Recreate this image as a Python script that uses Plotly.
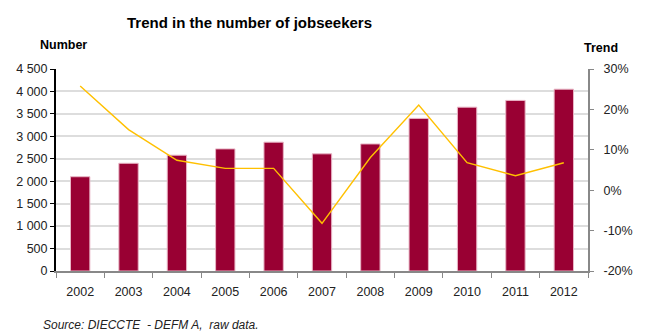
import plotly.graph_objects as go

years = ["2002", "2003", "2004", "2005", "2006", "2007", "2008", "2009", "2010", "2011", "2012"]
jobseekers = [2100, 2400, 2580, 2720, 2870, 2610, 2830, 3400, 3650, 3800, 4050]
trend_pct = [25.8, 15.0, 7.4, 5.4, 5.4, -8.2, 8.1, 21.1, 6.8, 3.6, 6.8]

left_ticks = [0, 500, 1000, 1500, 2000, 2500, 3000, 3500, 4000, 4500]
left_labels = ["0", "500", "1 000", "1 500", "2 000", "2 500", "3 000", "3 500", "4 000", "4 500"]
right_ticks = [-20, -10, 0, 10, 20, 30]
right_labels = ["-20%", "-10%", "0%", "10%", "20%", "30%"]

font_fam = "Liberation Sans, Arial, sans-serif"

fig = go.Figure()
fig.add_trace(go.Bar(
    x=years, y=jobseekers, width=0.4,
    marker=dict(color="#990033", line=dict(color="#E8B5C5", width=1)),
    yaxis="y", showlegend=False,
))
fig.add_trace(go.Scatter(
    x=years, y=trend_pct, mode="lines",
    line=dict(color="#FFC000", width=1.4),
    yaxis="y2", showlegend=False,
))

fig.update_layout(
    width=645, height=333,
    margin=dict(l=56, r=43, t=69, b=62),
    paper_bgcolor="white", plot_bgcolor="white",
    font=dict(family=font_fam, size=12, color="#222222"),
    xaxis=dict(
        type="category", showgrid=False,
        showline=True, linecolor="#888888", linewidth=2,
        ticks="outside", tickson="boundaries", ticklen=5, tickcolor="#888888", tickwidth=1,
        tickfont=dict(size=12.5), range=[-0.5, 10.5], ticklabelstandoff=8,
    ),
    yaxis=dict(
        range=[0, 4500], tickvals=left_ticks, ticktext=left_labels,
        showgrid=True, gridcolor="#DDDDDD", gridwidth=1.5,
        showline=True, linecolor="black", linewidth=2,
        ticks="outside", ticklen=4, tickcolor="black",
        tickfont=dict(size=12.5), zeroline=False,
    ),
    yaxis2=dict(
        range=[-20, 30], tickvals=right_ticks, ticktext=right_labels,
        overlaying="y", side="right", showgrid=False,
        showline=True, linecolor="#888888", linewidth=2,
        ticks="outside", ticklen=4, tickcolor="#888888",
        tickfont=dict(size=12.5), zeroline=False, ticklabelstandoff=7,
    ),
    annotations=[
        dict(text="<b>Trend in the number of jobseekers</b>", xref="paper", yref="paper",
             x=0.364, y=1.228, xanchor="center", yanchor="middle", showarrow=False,
             font=dict(size=15, color="black", family=font_fam)),
        dict(text="<b>Number</b>", xref="paper", yref="paper",
             x=0.015, y=1.119, xanchor="center", yanchor="middle", showarrow=False,
             font=dict(size=12.5, color="black", family=font_fam)),
        dict(text="<b>Trend</b>", xref="paper", yref="paper",
             x=1.024, y=1.104, xanchor="center", yanchor="middle", showarrow=False,
             font=dict(size=12.5, color="black", family=font_fam)),
        dict(text="<i>Source: DIECCTE  - DEFM A,  raw data.</i>", xref="paper", yref="paper",
             x=-0.029, y=-0.267, xanchor="left", yanchor="middle", showarrow=False,
             font=dict(size=12, color="#222222")),
    ],
)

fig.write_html("out.html")
